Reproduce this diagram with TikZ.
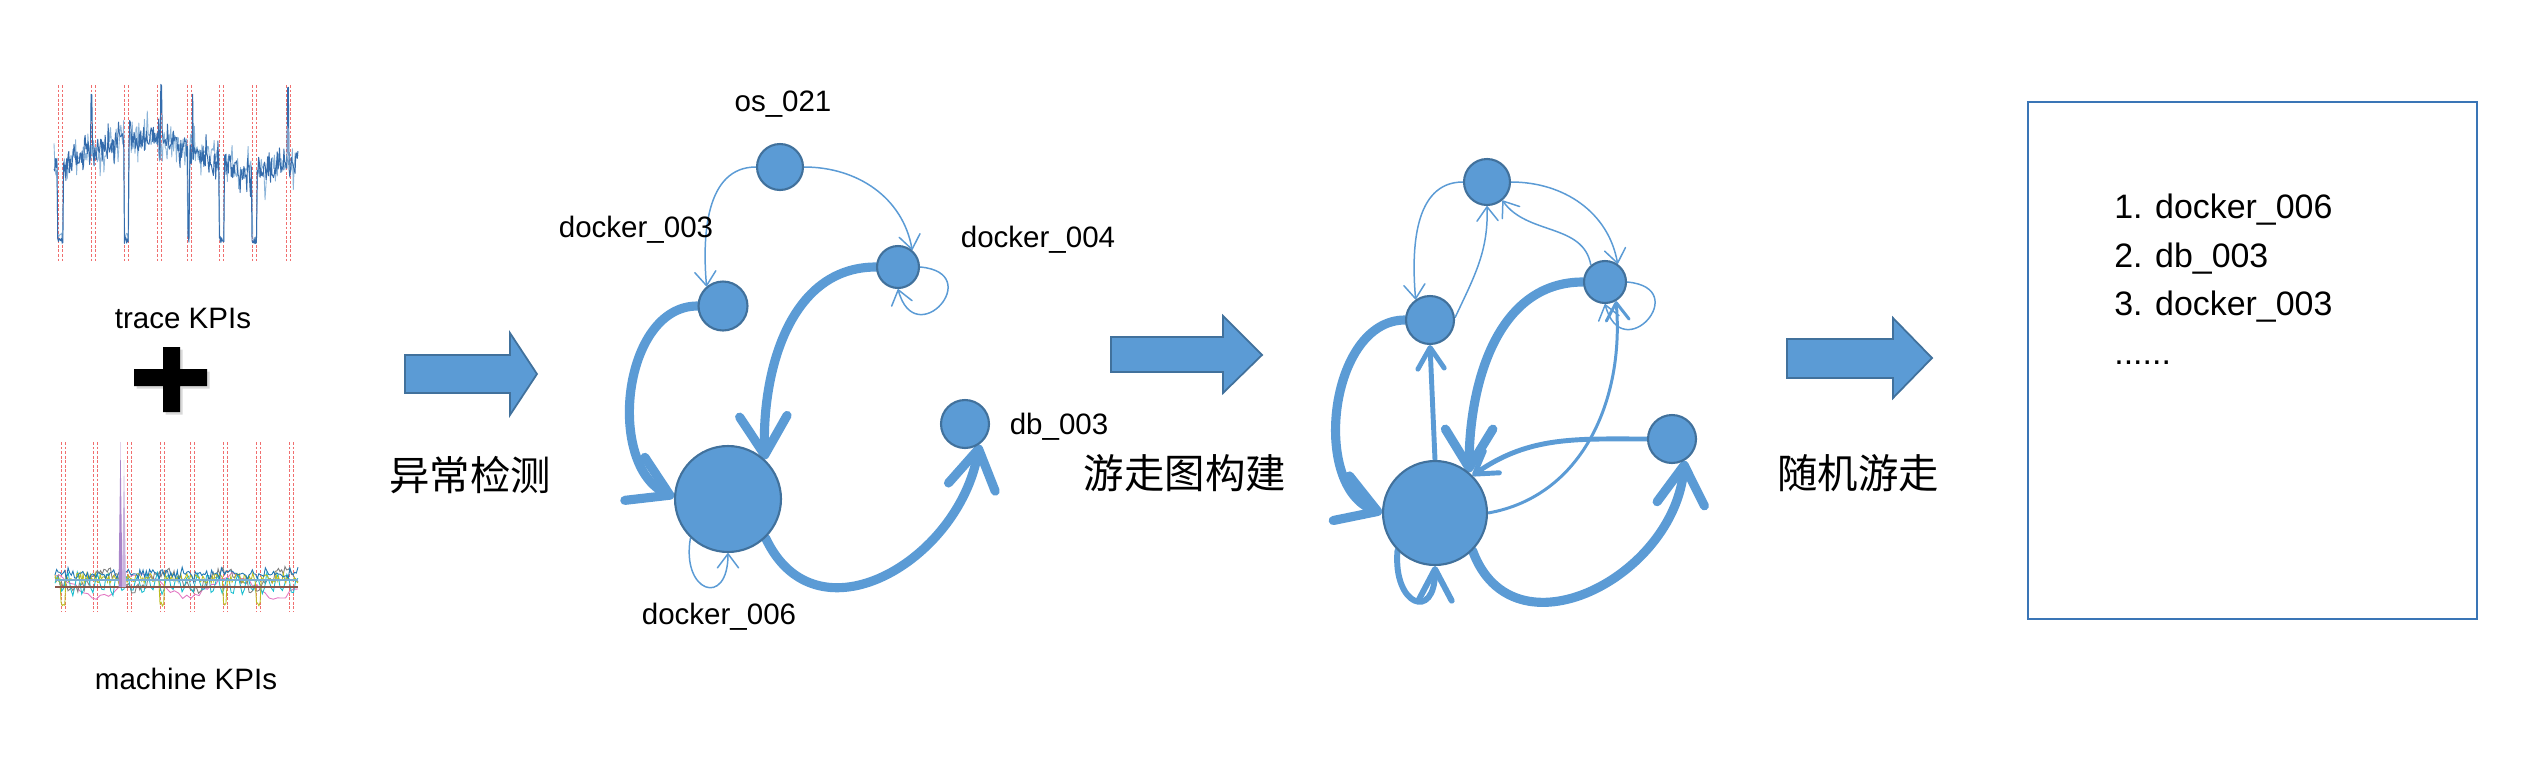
\documentclass[tikz,border=0pt]{standalone}
\usepackage{fontspec}
\setmainfont{Liberation Sans}
\newfontfamily\cjkfont{Noto Sans CJK SC}
\usetikzlibrary{arrows.meta, shadows, backgrounds}

\definecolor{nodeblue}{RGB}{91,155,213}
\definecolor{nodeborder}{RGB}{65,113,156}
\definecolor{boxblue}{RGB}{58,117,182}
\definecolor{tracedark}{RGB}{52,108,172}
\definecolor{tracelight}{RGB}{140,180,216}
\definecolor{anomred}{RGB}{240,110,110}
\definecolor{kgray}{RGB}{127,127,127}
\definecolor{kcyan}{RGB}{23,190,207}
\definecolor{kolive}{RGB}{188,189,34}
\definecolor{kpink}{RGB}{227,119,194}
\definecolor{kblue}{RGB}{31,119,180}
\definecolor{kbrown}{RGB}{140,86,75}
\definecolor{kpurple}{RGB}{148,103,189}

\tikzset{
  gnode/.style={circle, draw=nodeborder, fill=nodeblue, line width=1.2pt, inner sep=0pt},
  lbl/.style={font=\fontsize{16.8}{20}\selectfont, inner sep=0pt},
  steplbl/.style={font=\cjkfont\fontsize{23}{28}\selectfont, inner sep=0pt},
  listitem/.style={font=\fontsize{19.3}{23}\selectfont, anchor=base west, inner sep=0pt},
  bigarrow/.style={fill=nodeblue, draw=nodeborder, line width=1pt, line join=miter},
  anomline/.style={anomred, line width=0.45pt, dash pattern=on 1.6pt off 1pt},
  thinedge/.style={draw=nodeblue, line width=0.85pt, -{Straight Barb[length=8pt, width=12pt, round]}},
  midedge/.style={draw=nodeblue, line width=1.7pt, -{Straight Barb[length=10pt, width=13pt, round]}},
  medge/.style={draw=nodeblue, line width=2.8pt, line cap=round, -{Straight Barb[length=12pt, width=15pt, round]}},
  loopedge/.style={draw=nodeblue, line width=3.4pt, line cap=round, -{Straight Barb[length=18pt, width=19pt, round]}},
  thickedge/.style={draw=nodeblue, line width=5.2pt, line cap=round, -{Straight Barb[length=22pt, width=27pt, round]}}
}

\begin{document}
\begin{tikzpicture}[x=0.02cm, y=-0.02cm,
    declare function={
      tbase(\t)=157-18*sin((\t-80)*1.4)-12*max(0,(\t-240)/57);
      tdip(\t)=(\t>57)*(\t<63)+(\t>124)*(\t<128.5)+(\t>187.5)*(\t<189)+(\t>219)*(\t<224)+(\t>252)*(\t<257);
      tspike(\t)=(\t>91)*(\t<92.3)+(\t>160.5)*(\t<161.8)+(\t>192)*(\t<193.3)+(\t>287.5)*(\t<288.8);
    }]
    \useasboundingbox (0,0) rectangle (2534,778);
    \pgfmathsetseed{2718}

    % trace KPIs
    \foreach \a in {58,91,124,157,187,219,252,286} {
        \draw[anomline] (\a,85) -- (\a,263);
        \draw[anomline] (\a+4.5,85) -- (\a+4.5,263);
    }
    \draw[tracelight, line width=0.5pt, line join=round] plot[domain=54:298, samples=260, variable=\t]
        (\t, {ifthenelse(tdip(\t), 238+5*rand, tbase(\t)+11*rand+45*rand*rand*rand)});
    \draw[tracedark, line width=0.55pt, line join=round] plot[domain=54:298, samples=330, variable=\t]
        (\t, {ifthenelse(tdip(\t), 240+4*rand, ifthenelse(tspike(\t), 92+8*rand, tbase(\t)+10*rand+45*rand*rand*rand))});
    \node[lbl] (tracelbl) at (183,318) {trace KPIs};

    % plus sign
    \fill[black, drop shadow={shadow xshift=1.5pt, shadow yshift=-1.5pt, opacity=0.3}]
        (163,347) -- (180,347) -- (180,369) -- (207,369) -- (207,386) -- (180,386) -- (180,412)
        -- (163,412) -- (163,386) -- (134,386) -- (134,369) -- (163,369) -- cycle;

    % machine KPIs
    \foreach \a in {61,93,127,160,190,223,256,289} {
        \draw[anomline] (\a,442) -- (\a,612);
        \draw[anomline] (\a+4.5,442) -- (\a+4.5,612);
    }
    \draw[kpink, line width=0.5pt] plot[domain=55:298, samples=60, variable=\t] (\t, {586+11*sin(\t*4+60)+3*rand});
    \draw[kgray, line width=0.5pt] plot[domain=55:298, samples=150, variable=\t] (\t, {580+9*sin(\t*6)+5*rand});
    \draw[kcyan, line width=0.5pt] plot[domain=55:298, samples=110, variable=\t] (\t, {584+9*sin(\t*36)+3*rand});
    \draw[kolive, line width=0.5pt] plot[domain=55:298, samples=200, variable=\t]
        (\t, {ifthenelse((\t>61)*(\t<65)+(\t>160)*(\t<164)+(\t>223)*(\t<227)+(\t>256)*(\t<261), 604+2*rand, 578+5*rand)});
    \draw[kblue, line width=0.5pt] plot[domain=55:298, samples=150, variable=\t] (\t, {574+9*rand*rand});
    \draw[kblue!60, line width=0.6pt] (55,580) -- (298,580);
    \draw[kbrown, line width=0.8pt] (55,587) -- (298,587);
    \fill[kpurple!80] (118.5,587) -- (120.5,442) -- (122.5,587) -- cycle;
    \fill[kpurple!50] (122,587) -- (124,460) -- (126,587) -- cycle;
    \node[lbl] (machinelbl) at (186,679) {machine KPIs};

    % step 1
    \filldraw[bigarrow] (405,355) -- (510,355) -- (510,333) -- (537,374) -- (510,415) -- (510,393) -- (405,393) -- cycle;
    \node[steplbl] (detect) at (470,475) {异常检测};

    % anomalous services
    \node[gnode, minimum size=0.92cm] (os1) at (780,167) {};
    \node[gnode, minimum size=0.98cm] (dk3a) at (723,306) {};
    \node[gnode, minimum size=0.84cm] (dk4a) at (898,267) {};
    \node[gnode, minimum size=0.96cm] (db1) at (965,424) {};
    \node[gnode, minimum size=2.12cm] (dk6a) at (728,499) {};
    \node[lbl] (os1lbl) at (783,104) {os\_021};
    \node[lbl] (dk3albl) at (636,230) {docker\_003};
    \node[lbl] (dk4albl) at (1038,240) {docker\_004};
    \node[lbl] (db1lbl) at (1059,427) {db\_003};
    \node[lbl] (dk6albl) at (719,617) {docker\_006};
    \begin{pgfonlayer}{background}
        \draw[thinedge] (os1.180) to[out=180, in=95] (dk3a.130);
        \draw[thinedge] (os1.0) to[out=0, in=100] (dk4a.50);
        \draw[thinedge] (dk4a.0) to[out=-5, in=-75, looseness=5.5] (dk4a.-90);
        \draw[thickedge] (dk3a.180) to[out=180, in=155] (dk6a.178);
        \draw[thickedge] (dk4a.180) to[out=180, in=92] (dk6a.47);
        \draw[thickedge] (dk6a.-46) to[out=-65, in=-100, looseness=1.3] (db1.-55);
        \draw[thinedge] (dk6a.-134) to[out=-100, in=-90, looseness=3.5] (dk6a.-90);
    \end{pgfonlayer}

    % step 2
    \filldraw[bigarrow] (1111,337) -- (1223,337) -- (1223,316) -- (1262,355) -- (1223,393) -- (1223,372) -- (1111,372) -- cycle;
    \node[steplbl] (build) at (1185,473) {游走图构建};

    % walk graph
    \node[gnode, minimum size=0.92cm] (os2) at (1487,182) {};
    \node[gnode, minimum size=0.96cm] (dk3b) at (1430,320) {};
    \node[gnode, minimum size=0.84cm] (dk4b) at (1605,282) {};
    \node[gnode, minimum size=0.96cm] (db2) at (1672,439) {};
    \node[gnode, minimum size=2.08cm] (dk6b) at (1435,513) {};
    \begin{pgfonlayer}{background}
        \draw[thinedge] (os2.180) to[out=180, in=95] (dk3b.125);
        \draw[thinedge] (dk3b.5) to[out=65, in=-88] (os2.-90);
        \draw[thinedge] (os2.0) to[out=0, in=100] (dk4b.55);
        \draw[thinedge] (dk4b.130) to[out=100, in=-55] (os2.-50);
        \draw[thinedge] (dk4b.0) to[out=-5, in=-75, looseness=5.5] (dk4b.-90);
        \draw[midedge] (dk6b.0) to[out=10, in=-85] (dk4b.-60);
        \draw[medge] (dk6b.90) -- (dk3b.-90);
        \draw[thickedge] (dk3b.180) to[out=180, in=160] (dk6b.180);
        \draw[thickedge] (dk4b.180) to[out=180, in=90] (dk6b.50);
        \draw[medge] (db2.180) to[out=180, in=35] (dk6b.45);
        \draw[thickedge] (dk6b.-45) to[out=-70, in=-95, looseness=1.3] (db2.-60);
        \draw[loopedge] (dk6b.-135) to[out=-95, in=-90, looseness=3.5] (dk6b.-90);
    \end{pgfonlayer}

    % step 3
    \filldraw[bigarrow] (1787,339) -- (1893,339) -- (1893,318) -- (1932,358) -- (1893,398) -- (1893,378) -- (1787,378) -- cycle;
    \node[steplbl] (walk) at (1858,473) {随机游走};

    % ranking
    \node[draw=boxblue, line width=1.1pt, minimum width=8.98cm, minimum height=10.34cm, inner sep=0pt] (rankbox) at (2252.5,360.5) {};
    \node[listitem] (rank1) at (2114,218) {1. docker\_006};
    \node[listitem] (rank2) at (2114,267) {2. db\_003};
    \node[listitem] (rank3) at (2114,315) {3. docker\_003};
    \node[listitem] (rank4) at (2114,364) {......};
\end{tikzpicture}
\end{document}
